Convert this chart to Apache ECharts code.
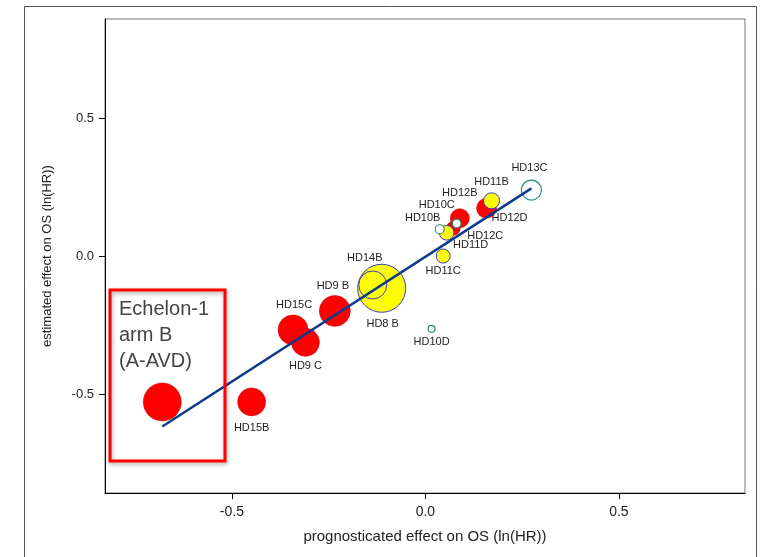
<!DOCTYPE html>
<html>
<head>
<meta charset="utf-8">
<script src="https://cdn.jsdelivr.net/npm/echarts@6/dist/echarts.min.js"></script>
<style>
  html, body { margin: 0; padding: 0; background: #fff; }
  #chart { width: 763px; height: 557px; }
</style>
</head>
<body>
<div id="chart"></div>
<script>
// trial arms
const names = ['Echelon-1 arm B', 'HD15B', 'HD15C', 'HD9 C', 'HD9 B', 'HD8 B', 'HD14B', 'HD10D', 'HD11C',
  'HD11D', 'HD10B', 'HD12C', 'HD12B', 'HD10C', 'HD12D', 'HD11B', 'HD13C']
const prognosticated = [-0.680, -0.449, -0.342, -0.310, -0.234, -0.113, -0.136, 0.016, 0.046,
  0.055, 0.037, 0.072, 0.089, 0.081, 0.158, 0.171, 0.274]
const estimated = [-0.529, -0.529, -0.268, -0.313, -0.199, -0.117, -0.105, -0.264, 0.000,
  0.084, 0.097, 0.100, 0.137, 0.118, 0.173, 0.200, 0.239]
// relative bubble weight
const weights = [19, 14, 15, 14, 15.5, 24, 14, 3.5, 7, 7.3, 4.5, 7, 9.5, 4.3, 10, 8, 10]
const groups = ['red', 'red', 'red', 'red', 'red', 'yellow', 'yellow', 'open', 'yellow',
  'yellow', 'open', 'red', 'red', 'open', 'red', 'yellow', 'open']

// regression line end points
const fitX = [-0.680, 0.274]
const fitY = [-0.618, 0.245]

const tickValues = [-0.5, 0, 0.5]

// label placement (px offset from bubble centre)
const labelOffset = {
  HD15B: [0, 26],
  HD15C: [1, -25],
  'HD9 C': [0, 24],
  'HD9 B': [-2, -25],
  'HD8 B': [1, 36],
  HD14B: [-8, -27],
  HD10D: [0, 13],
  HD11C: [0, 15],
  HD11D: [24, 12],
  HD10B: [-17, -11],
  HD12C: [32, 8],
  HD12B: [0, -25],
  HD10C: [-20, -18],
  HD12D: [23, 10],
  HD11B: [0, -19],
  HD13C: [-2, -22]
}

const font = 'Liberation Sans, Arial, sans-serif'

const styles = {
  red: { color: '#ff0000', borderColor: '#c00000', borderWidth: 0.5, opacity: 1 },
  yellow: { color: '#ffff00', borderColor: '#3a3acc', borderWidth: 1, opacity: 1 },
  open: { color: '#ffffff', borderColor: '#2a8a80', borderWidth: 1.2, opacity: 1 }
}

function groupSeries (g) {
  const data = []
  names.forEach((n, i) => {
    if (groups[i] !== g) return
    data.push({
      name: n,
      value: [prognosticated[i], estimated[i], weights[i]],
      label: { show: !!labelOffset[n] }
    })
  })
  // biggest bubbles underneath
  data.sort((a, b) => b.value[2] - a.value[2])
  return {
    type: 'scatter',
    data: data,
    symbolSize: v => v[2] * 2,
    itemStyle: styles[g],
    label: {
      position: 'inside',
      formatter: p => p.name,
      color: '#222',
      fontSize: 11,
      fontFamily: font
    },
    labelLayout: function (params) {
      const off = labelOffset[data[params.dataIndex].name] || [0, 0]
      return { dx: off[0], dy: off[1] }
    },
    silent: true
  }
}

const chart = echarts.init(document.getElementById('chart'), null, { renderer: 'canvas' })

const axisCommon = {
  type: 'value',
  axisLine: { show: true, onZero: false, lineStyle: { color: '#000', width: 1 } },
  axisTick: { show: true, customValues: tickValues, length: 6, lineStyle: { color: '#000' } },
  splitLine: { show: false },
  nameLocation: 'middle'
}

const option = {
  animation: false,
  backgroundColor: '#fff',
  grid: { left: 105, right: 18, top: 19, bottom: 64, show: true, borderColor: '#777', borderWidth: 1 },
  xAxis: Object.assign({}, axisCommon, {
    min: -0.828,
    max: 0.826,
    name: 'prognosticated effect on OS (ln(HR))',
    nameGap: 36,
    nameTextStyle: { color: '#222', fontSize: 15, fontFamily: font },
    axisLabel: {
      customValues: tickValues,
      formatter: v => v.toFixed(1),
      color: '#222',
      fontSize: 14,
      margin: 12,
      fontFamily: font
    }
  }),
  yAxis: Object.assign({}, axisCommon, {
    min: -0.859,
    max: 0.859,
    name: 'estimated effect on OS (ln(HR))',
    nameGap: 51,
    nameTextStyle: { color: '#222', fontSize: 13, fontFamily: font },
    axisLabel: {
      customValues: tickValues,
      formatter: v => v.toFixed(1),
      color: '#222',
      fontSize: 13,
      margin: 11,
      fontFamily: font
    }
  }),
  graphic: [
    {
      type: 'rect',
      shape: { x: 24.5, y: 6.5, width: 732, height: 620 },
      style: { fill: 'none', stroke: '#555', lineWidth: 1 },
      silent: true
    },
    {
      type: 'rect',
      shape: { x: 110, y: 290, width: 115, height: 171 },
      style: {
        fill: 'none', stroke: '#ff0000', lineWidth: 3,
        shadowBlur: 4, shadowColor: 'rgba(0,0,0,0.35)', shadowOffsetX: 1, shadowOffsetY: 2
      },
      z: 10,
      silent: true
    },
    {
      type: 'text',
      left: 119,
      top: 296,
      style: {
        text: 'Echelon-1\narm B\n(A-AVD)',
        fill: '#444',
        font: '20px "Liberation Sans", Arial, sans-serif',
        lineHeight: 26
      },
      z: 10,
      silent: true
    }
  ],
  series: [
    groupSeries('red'),
    groupSeries('yellow'),
    groupSeries('open'),
    {
      type: 'line',
      data: fitX.map((x, i) => [x, fitY[i]]),
      symbol: 'none',
      lineStyle: { color: '#0d3b8c', width: 2.5 },
      z: 5,
      silent: true
    }
  ]
}

chart.setOption(option)
</script>
</body>
</html>
